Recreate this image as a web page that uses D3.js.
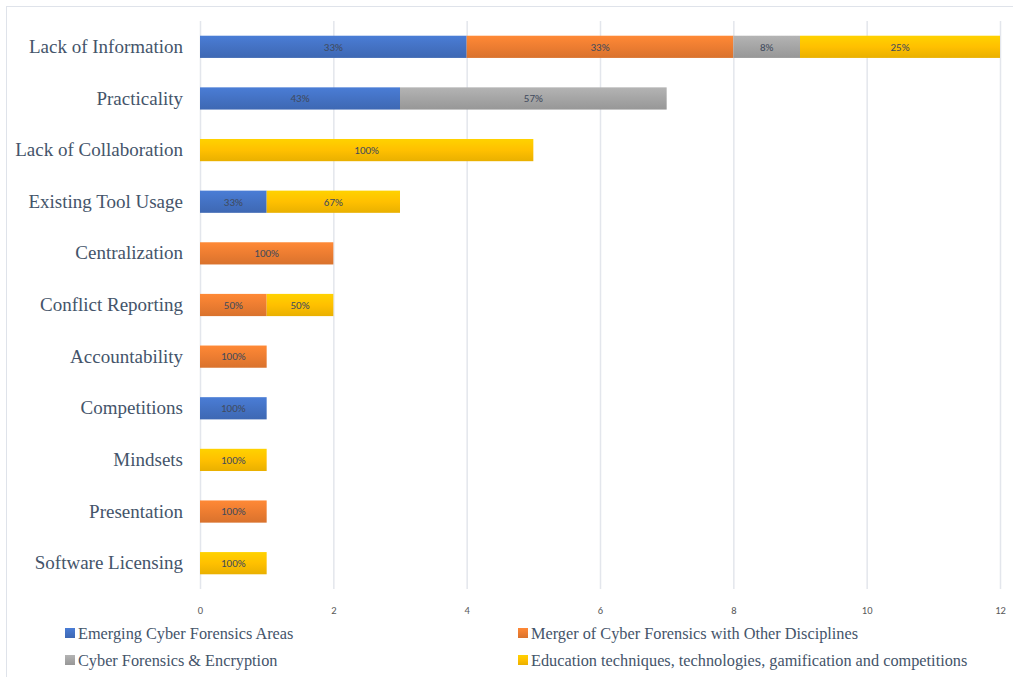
<!DOCTYPE html>
<html>
<head>
<meta charset="utf-8">
<script src="https://cdn.jsdelivr.net/npm/d3@7"></script>
<style>
  body { margin: 0; background: #fff; }
  #chart_div { width: 1013px; height: 677px; }
</style>
</head>
<body>
<div id="chart_div"></div>
<script>
const categories = ["Lack of Information", "Practicality", "Lack of Collaboration", "Existing Tool Usage",
    "Centralization", "Conflict Reporting", "Accountability", "Competitions", "Mindsets",
    "Presentation", "Software Licensing"];
const seriesNames = ["Emerging Cyber Forensics Areas", "Merger of Cyber Forensics with Other Disciplines",
    "Cyber Forensics & Encryption", "Education techniques, technologies, gamification and competitions"];
const emerging  = [4, 3, 0, 1, 0, 0, 0, 1, 0, 0, 0];
const merger    = [4, 0, 0, 0, 2, 1, 1, 0, 0, 1, 0];
const encryption = [1, 4, 0, 0, 0, 0, 0, 0, 0, 0, 0];
const education = [3, 0, 5, 2, 0, 1, 0, 0, 1, 0, 1];
const xTicks = [0, 2, 4, 6, 8, 10, 12];
const colors = ["#4472c4", "#ed7d31", "#a5a5a5", "#ffc000"];

const width = 1013;
const height = 677;
const plotLeft = 200, plotRight = 1000, plotTop = 21, plotBottom = 589;

const table = categories.map((c, i) => ({
    cat: c,
    s0: emerging[i], s1: merger[i], s2: encryption[i], s3: education[i]
}));
const keys = ["s0", "s1", "s2", "s3"];
const stacked = d3.stack().keys(keys)(table);

const svg = d3.select("#chart_div")
    .append("svg")
    .attr("width", width)
    .attr("height", height);

// gradients like the office bars
const defs = svg.append("defs");
colors.forEach((c, i) => {
    const g = defs.append("linearGradient")
        .attr("id", "grad" + i)
        .attr("x1", 0).attr("y1", 0).attr("x2", 0).attr("y2", 1);
    g.append("stop").attr("offset", "0%").attr("stop-color", d3.color(c).brighter(0.25));
    g.append("stop").attr("offset", "50%").attr("stop-color", c);
    g.append("stop").attr("offset", "100%").attr("stop-color", d3.color(c).darker(0.25));
});

// border
svg.append("rect")
    .attr("x", 6.5).attr("y", 6.5)
    .attr("width", width + 10).attr("height", height + 10)
    .attr("fill", "none")
    .attr("stroke", "#dfe3ea");

const x = d3.scaleLinear()
    .domain([0, 12])
    .range([plotLeft, plotRight]);

const y = d3.scaleBand()
    .domain(categories)
    .range([plotTop, plotBottom])
    .paddingInner(0.57)
    .paddingOuter(0.285);

// grid
svg.append("g")
    .selectAll("line")
    .data(xTicks)
    .enter()
    .append("line")
    .attr("x1", d => x(d) + 0.5)
    .attr("x2", d => x(d) + 0.5)
    .attr("y1", plotTop)
    .attr("y2", plotBottom)
    .attr("stroke", "#e3e6ec")
    .attr("stroke-width", 1.5);

const xAxis = (g) => g.append("g")
    .attr("transform", `translate(0, ${plotBottom + 15})`)
    .call(d3.axisBottom(x).tickValues(xTicks).tickSize(0).tickFormat(d3.format("d")))
    .call(g => g.select(".domain").remove())
    .call(g => g.selectAll("text")
        .attr("fill", "#595959")
        .style("font-family", "Carlito, 'Liberation Sans', Arial, sans-serif")
        .style("font-size", "10.5px"));

const yAxis = (g) => g.append("g")
    .attr("transform", `translate(${plotLeft - 14},0)`)
    .call(d3.axisLeft(y).tickSize(0))
    .call(g => g.select(".domain").remove())
    .call(g => g.selectAll("text")
        .attr("fill", "#44546a")
        .style("font-family", "'Liberation Serif', 'Times New Roman', serif")
        .style("font-size", "19px"));

svg.call(xAxis);
svg.call(yAxis);

const layers = svg.append("g")
    .selectAll("g")
    .data(stacked)
    .enter()
    .append("g")
    .attr("fill", (d, i) => `url(#grad${i})`);

layers.selectAll("rect")
    .data(d => d.filter(p => p[1] - p[0] > 0))
    .enter()
    .append("rect")
    .attr("x", d => x(d[0]))
    .attr("y", d => y(d.data.cat))
    .attr("width", d => x(d[1]) - x(d[0]))
    .attr("height", y.bandwidth());

// percentage labels
layers.selectAll("text")
    .data(d => d.filter(p => p[1] - p[0] > 0))
    .enter()
    .append("text")
    .attr("x", d => (x(d[0]) + x(d[1])) / 2)
    .attr("y", d => y(d.data.cat) + y.bandwidth() / 2)
    .attr("dy", "0.35em")
    .attr("text-anchor", "middle")
    .attr("fill", "#404a5c")
    .style("font-family", "Carlito, 'Liberation Sans', Arial, sans-serif")
    .style("font-size", "11px")
    .text(d => {
        const t = d.data.s0 + d.data.s1 + d.data.s2 + d.data.s3;
        return Math.round((d[1] - d[0]) / t * 100) + "%";
    });

// legend
const legendPos = [[65, 633], [518, 633], [65, 660], [518, 660]];
const legend = svg.append("g")
    .selectAll("g")
    .data(seriesNames)
    .enter()
    .append("g")
    .attr("transform", (d, i) => `translate(${legendPos[i][0]}, ${legendPos[i][1]})`);

legend.append("rect")
    .attr("x", 0).attr("y", -5)
    .attr("width", 10).attr("height", 10)
    .attr("fill", (d, i) => `url(#grad${i})`);

legend.append("text")
    .attr("x", 13)
    .attr("dy", "0.35em")
    .attr("fill", "#44546a")
    .style("font-family", "'Liberation Serif', 'Times New Roman', serif")
    .style("font-size", "16.3px")
    .text(d => d);
</script>
</body>
</html>
